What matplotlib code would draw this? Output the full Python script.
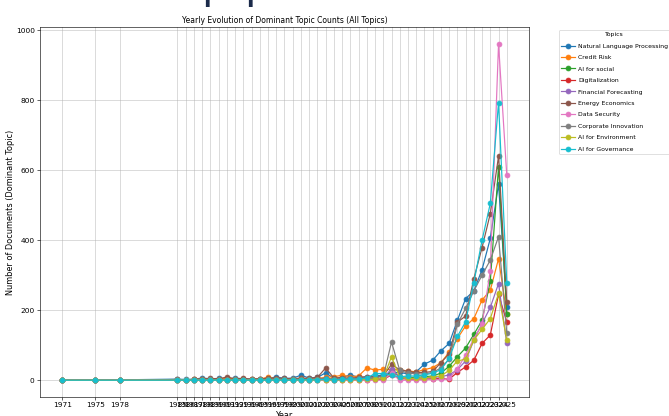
import matplotlib
matplotlib.use("Agg")
import matplotlib.pyplot as plt

years = [1971, 1975, 1978,
         1985, 1986, 1987, 1988, 1989, 1990, 1991, 1992, 1993, 1994,
         1995, 1996, 1997, 1998, 1999, 2000, 2001, 2002, 2003, 2004,
         2005, 2006, 2007, 2008, 2009, 2010, 2011, 2012, 2013, 2014,
         2015, 2016, 2017, 2018, 2019, 2020, 2021, 2022, 2023, 2024, 2025]

topics = ["Natural Language Processing", "Credit Risk", "AI for social",
          "Digitalization", "Financial Forecasting", "Energy Economics",
          "Data Security", "Corporate Innovation", "AI for Environment",
          "AI for Governance"]

nlp = [1, 1, 1,
       3, 2, 3, 6, 4, 5, 3, 6, 4, 3, 4, 5, 9, 5, 6,
       14, 6, 8, 21, 5, 8, 15, 8, 10, 12,
       15, 22, 22, 18, 24, 46, 57, 84, 105, 171, 233, 255, 316, 405, 560, 210]
credit = [0, 0, 0,
          1, 1, 2, 3, 2, 2, 5, 3, 2, 2, 3, 9, 3, 2, 4,
          5, 4, 5, 8, 10, 14, 10, 12, 35, 29,
          31, 30, 30, 26, 24, 30, 36, 50, 80, 119, 155, 176, 229, 257, 347, 190]
social = [0, 0, 0,
          0, 0, 1, 0, 1, 0, 1, 0, 1, 0, 1, 1, 2, 1, 1,
          2, 1, 2, 3, 2, 3, 2, 3, 4, 5,
          5, 25, 10, 8, 8, 10, 12, 20, 40, 67, 92, 131, 171, 283, 610, 189]
digital = [0, 0, 0,
           0, 0, 0, 0, 0, 0, 0, 0, 0, 0, 0, 0, 1, 0, 0,
           1, 0, 1, 1, 0, 1, 1, 1, 1, 2,
           2, 15, 5, 3, 3, 3, 4, 5, 3, 22, 38, 57, 105, 129, 245, 167]
forecast = [0, 0, 0,
            0, 0, 0, 1, 0, 1, 0, 1, 0, 1, 0, 1, 1, 0, 1,
            1, 1, 2, 2, 1, 2, 2, 2, 3, 4,
            5, 33, 8, 5, 5, 6, 8, 10, 15, 30, 55, 114, 162, 208, 276, 105]
energy = [0, 0, 0,
          2, 1, 2, 3, 5, 4, 9, 4, 5, 3, 4, 5, 6, 5, 4,
          6, 5, 8, 35, 6, 7, 6, 8, 9, 10,
          12, 45, 30, 25, 22, 22, 25, 50, 75, 166, 183, 290, 379, 476, 640, 224]
security = [0, 0, 0,
            0, 0, 0, 0, 0, 0, 0, 0, 0, 0, 0, 0, 0, 0, 0,
            0, 0, 0, 0, 0, 0, 0, 0, 0, 0,
            0, 20, 0, 0, 0, 1, 2, 2, 5, 32, 72, 119, 160, 313, 961, 586]
corporate = [0, 0, 0,
             1, 0, 1, 1, 2, 1, 1, 2, 1, 1, 2, 2, 3, 2, 2,
             3, 2, 4, 6, 3, 4, 5, 5, 6, 8,
             10, 109, 28, 20, 18, 18, 22, 35, 60, 160, 205, 255, 300, 343, 410, 135]
environment = [0, 0, 0,
               0, 0, 0, 0, 0, 0, 0, 0, 0, 0, 0, 0, 0, 0, 0,
               0, 0, 1, 1, 0, 1, 1, 1, 2, 3,
               5, 67, 8, 5, 5, 6, 10, 12, 28, 55, 60, 115, 145, 176, 248, 114]
governance = [0, 0, 0,
              0, 0, 0, 0, 0, 0, 0, 0, 0, 0, 0, 0, 0, 0, 0,
              1, 1, 1, 2, 1, 2, 3, 3, 6, 19,
              19, 14, 10, 12, 12, 15, 20, 30, 62, 125, 167, 279, 400, 505, 793, 279]

series = [nlp, credit, social, digital, forecast, energy, security,
          corporate, environment, governance]

W, H, DPI = 669, 416, 54
fig = plt.figure(figsize=(W / DPI, H / DPI), dpi=DPI)
ax = fig.add_axes([40 / W, 1 - 397 / H, (529 - 40) / W, (397 - 27) / H])

for name, vals in zip(topics, series):
    ax.plot(years, vals, marker="o", lw=1.6, ms=6.5, label=name)

ax.set_xticks(years)
ax.set_xticklabels([str(y) for y in years])
ax.tick_params(labelsize=9.8)
ax.grid(True, alpha=0.6, lw=1.0)
ax.set_title("Yearly Evolution of Dominant Topic Counts (All Topics)", fontsize=10.1)
ax.set_xlabel("Year", fontsize=10.8)
ax.set_ylabel("Number of Documents (Dominant Topic)", fontsize=10.8, labelpad=1)
ax.legend(title="Topics", loc="upper left", bbox_to_anchor=(1.055, 1),
          fontsize=8.2, title_fontsize=8.2, labelspacing=1.0,
          handlelength=2.3, handletextpad=0.5, borderpad=0.35)

# cropped heading at top of the page (only descenders visible)
for xp in (201, 244):
    fig.text(xp / W, 1 + 2 / H, "p", fontsize=56, fontweight="normal",
             color="#1b2a4a", ha="left", va="baseline")

fig.savefig("out.png", dpi=DPI)
